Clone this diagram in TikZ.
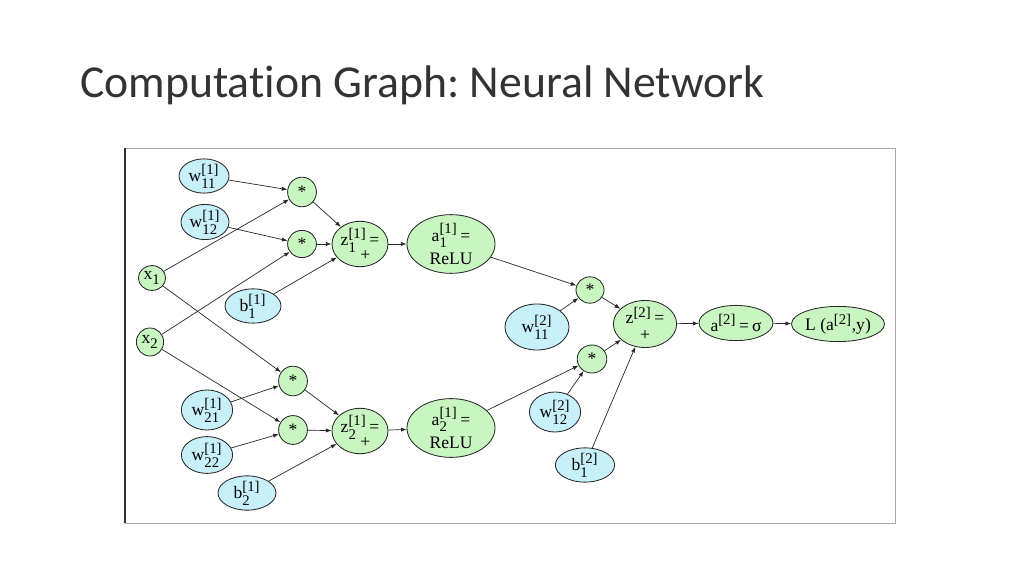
\documentclass[tikz,border=0pt]{standalone}
\usepackage{fontspec}
\setmainfont{Liberation Serif}
\newfontfamily\titlefont[Ligatures=NoCommon]{Carlito}
\usetikzlibrary{shapes.geometric,arrows.meta}
\frenchspacing
\newcommand{\supsub}[3]{#1\ensuremath{^{\mbox{\fontsize{10.5}{10}\selectfont #2}}_{\mbox{\fontsize{10.5}{10}\selectfont #3}}}}
\newcommand{\supx}[2]{#1\ensuremath{^{\mbox{\fontsize{10.5}{10}\selectfont #2}}}}
\definecolor{ngreen}{RGB}{200,245,192}
\definecolor{nblue}{RGB}{200,240,250}
\definecolor{edgec}{RGB}{40,40,40}
\tikzset{
  base/.style={ellipse, draw=edgec, line width=0.6pt, inner sep=0pt, align=center,
    font=\fontsize{12.5}{12}\selectfont},
  gnode/.style={base, fill=ngreen},
  bnode/.style={base, fill=nblue},
  sz/.style 2 args={minimum width=#1cm, minimum height=#2cm},
  arr/.style={-{Latex[length=4pt,width=3pt]}, draw=edgec, line width=0.5pt},
}
\begin{document}
\begin{tikzpicture}[x=0.025cm,y=-0.025cm]
\useasboundingbox (0,0) rectangle (1024,576);
\node[anchor=base west, font=\titlefont\fontsize{32.5}{34}\selectfont, text=black!80, inner sep=0pt] (title) at (80,98) {Computation Graph: Neural Network};
\draw[gray!70, line width=0.6pt] (125,148) rectangle (895,523);
\draw[black!80, line width=1pt] (125,148) -- (125,523);
% layer 1 inputs
\node[bnode, sz={1.25}{0.8}] (w11) at (204,176) {\supsub{w}{[1]}{11}};
\node[bnode, sz={1.2}{0.88}] (w12) at (205,222) {\supsub{w}{[1]}{12}};
\node[gnode, sz={0.68}{0.62}] (x1) at (152,278) {\supsub{x}{}{1}};
\node[gnode, sz={0.68}{0.7}] (x2) at (150,342) {\supsub{x}{}{2}};
\node[bnode, sz={1.4}{0.75}] (b11) at (253,306) {\supsub{b}{[1]}{1}};
\node[bnode, sz={1.28}{1.0}] (w21) at (207,410) {\supsub{w}{[1]}{21}};
\node[bnode, sz={1.28}{0.92}] (w22) at (207,455) {\supsub{w}{[1]}{22}};
\node[bnode, sz={1.45}{0.75}] (b12) at (247,493) {\supsub{b}{[1]}{2}};
% products
\node[gnode, sz={0.72}{0.74}] (m1) at (302,192) {*};
\node[gnode, sz={0.72}{0.68}] (m2) at (302,244) {*};
\node[gnode, sz={0.72}{0.74}] (m3) at (293,381) {*};
\node[gnode, sz={0.72}{0.72}] (m4) at (293,430) {*};
% sums and activations
\node[gnode, sz={1.4}{1.05}] (z1) at (360,244) {\supsub{z}{[1]}{1}\,=\\[-2pt]\hspace{0.6em}+};
\node[gnode, sz={1.4}{1.05}] (z2) at (360,431) {\supsub{z}{[1]}{2}\,=\\[-2pt]\hspace{0.6em}+};
\node[gnode, sz={2.2}{1.2}] (a1) at (451,244) {\supsub{a}{[1]}{1}\,=\\[3pt]ReLU};
\node[gnode, sz={2.2}{1.2}] (a2) at (451,428) {\supsub{a}{[1]}{2}\,=\\[3pt]ReLU};
% layer 2
\node[gnode, sz={0.7}{0.66}] (m5) at (590,290) {*};
\node[gnode, sz={0.74}{0.7}] (m6) at (592,359) {*};
\node[bnode, sz={1.6}{1.15}] (w211) at (537,327) {\supsub{w}{[2]}{11}};
\node[bnode, sz={1.28}{1.0}] (w212) at (555,412) {\supsub{w}{[2]}{12}};
\node[bnode, sz={1.48}{0.8}] (b21) at (585,465) {\supsub{b}{[2]}{1}};
\node[gnode, sz={1.58}{1.05}] (zz) at (645,324) {\supx{z}{[2]}\,=\\+};
\node[gnode, sz={1.85}{0.88}] (aa) at (736,323) {\supx{a}{[2]}\,=\,σ};
\node[gnode, sz={2.25}{0.88}] (L) at (838,324) {L (\supx{a}{[2]},y)};
% edges
\draw[arr] (w11) -- (m1);
\draw[arr] (x1) -- (m1);
\draw[arr] (w12) -- (m2);
\draw[arr] (x2) -- (m2);
\draw[arr] (x1) -- (m3);
\draw[arr] (x2) -- (m4);
\draw[arr] (w21) -- (m3);
\draw[arr] (w22) -- (m4);
\draw[arr] (m1) -- (z1);
\draw[arr] (m2) -- (z1);
\draw[arr] (b11) -- (z1);
\draw[arr] (m3) -- (z2);
\draw[arr] (m4) -- (z2);
\draw[arr] (b12) -- (z2);
\draw[arr] (z1) -- (a1);
\draw[arr] (z2) -- (a2);
\draw[arr] (a1) -- (m5);
\draw[arr] (w211) -- (m5);
\draw[arr] (a2) -- (m6);
\draw[arr] (w212) -- (m6);
\draw[arr] (m5) -- (zz);
\draw[arr] (m6) -- (zz);
\draw[arr] (b21) -- (zz);
\draw[arr] (zz) -- (aa);
\draw[arr] (aa) -- (L);
\end{tikzpicture}
\end{document}
